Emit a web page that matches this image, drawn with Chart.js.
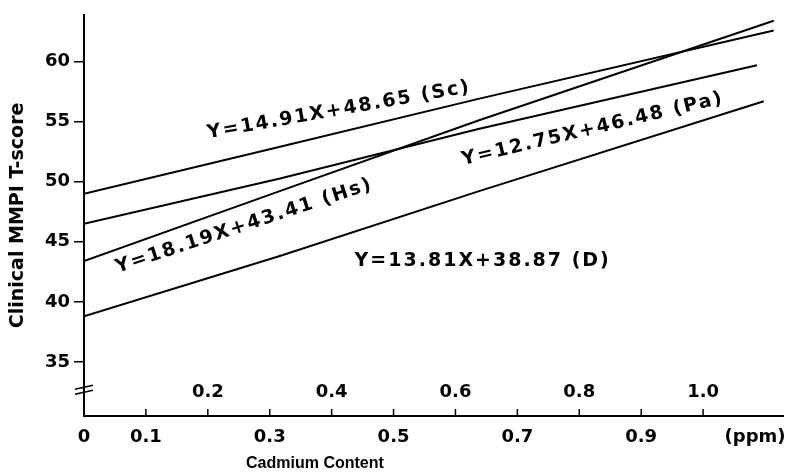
<!DOCTYPE html>
<html>
<head>
<meta charset="utf-8">
<script src="https://cdn.jsdelivr.net/npm/chart.js@4"></script>
<style>
  html, body { margin: 0; padding: 0; background: #fff; }
  #wrap { width: 797px; height: 473px; }
</style>
</head>
<body>
<div id="wrap"><canvas id="graph" width="797" height="473"></canvas></div>
<script>
// cadmium content (ppm) vs clinical MMPI T-score, one regression line per scale
var scX = [0, 0.315, 0.637, 1.114];
var scY = [49.0, 52.9, 56.9, 62.6];
var hsX = [0, 0.315, 0.637, 1.114];
var hsY = [43.4, 49.2, 55.1, 63.4];
var paX = [0, 0.315, 0.637, 1.087];
var paY = [46.5, 50.25, 54.4, 59.7];
var dX = [0, 0.315, 0.637, 1.098];
var dY = [38.8, 43.8, 49.2, 56.7];

var yTicks = [35, 40, 45, 50, 55, 60];
var xMarks = [0.1, 0.2, 0.3, 0.4, 0.5, 0.6, 0.7, 0.8, 0.9, 1.0];
var xLowVals = [0, 0.1, 0.3, 0.5, 0.7, 0.9, 1.084];
var xLowLabels = ['0', '0.1', '0.3', '0.5', '0.7', '0.9', '(ppm)'];
var xHighVals = [0.2, 0.4, 0.6, 0.8, 1.0];
var xHighLabels = ['0.2', '0.4', '0.6', '0.8', '1.0'];

var eqLabels = [
  'Y=14.91X+48.65 (Sc)',
  'Y=18.19X+43.41 (Hs)',
  'Y=12.75X+46.48 (Pa)',
  'Y=13.81X+38.87 (D)'
];

// where the equation texts sit (data units) and their slant in degrees
var notes = [
  { x: 0.412, y: 55.95, rot: 10 },
  { x: 0.259, y: 46.32, rot: 18.2 },
  { x: 0.822, y: 54.38, rot: 13.4 },
  { x: 0.644, y: 43.39, rot: 0 }
];

var numFont = { family: 'DejaVu Sans', size: 18, weight: 'bold' };

function pts(xs, ys) {
  return xs.map(function (x, k) { return { x: x, y: ys[k] }; });
}

function lineSet(xs, ys) {
  return {
    data: pts(xs, ys),
    borderColor: '#000',
    borderWidth: 2,
    pointRadius: 0,
    tension: 0,
    fill: false
  };
}

const extras = {
  id: 'extras',
  afterDraw(chart) {
    const ctx = chart.ctx;
    const xs = chart.scales.x, ys = chart.scales.y;
    const base = ys.bottom, ax = xs.left;
    ctx.save();
    ctx.strokeStyle = '#000';
    ctx.lineWidth = 1.5;

    // tick marks on the x axis point up into the plot
    xMarks.forEach(function (v) {
      const px = xs.getPixelForValue(v);
      ctx.beginPath();
      ctx.moveTo(px, base);
      ctx.lineTo(px, base - 7);
      ctx.stroke();
    });

    // axis break on the y axis
    const by = ys.getPixelForValue(32.9);
    [0, 5].forEach(function (o) {
      ctx.beginPath();
      ctx.moveTo(ax - 9, by + 2 + o);
      ctx.lineTo(ax + 9, by - 2 + o);
      ctx.stroke();
    });

    ctx.fillStyle = '#000';
    ctx.font = 'bold 18px "DejaVu Sans"';
    ctx.textAlign = 'center';
    ctx.textBaseline = 'middle';
    xHighVals.forEach(function (v, i) {
      ctx.fillText(xHighLabels[i], xs.getPixelForValue(v), base - 24);
    });

    ctx.font = 'bold 19px "DejaVu Sans"';
    ctx.letterSpacing = '2px';
    notes.forEach(function (n, i) {
      ctx.save();
      ctx.translate(xs.getPixelForValue(n.x), ys.getPixelForValue(n.y));
      ctx.rotate(-n.rot * Math.PI / 180);
      ctx.fillText(eqLabels[i], 0, 0);
      ctx.restore();
    });
    ctx.letterSpacing = '0px';

    ctx.font = 'bold 16px "Liberation Sans"';
    ctx.fillText('Cadmium Content', xs.getPixelForValue(0.373), chart.height - 9);
    ctx.restore();
  }
};

var graph = document.getElementById('graph').getContext('2d');
var myChart = new Chart(graph, {
  type: 'line',
  data: {
    datasets: [
      lineSet(scX, scY),
      lineSet(hsX, hsY),
      lineSet(paX, paY),
      lineSet(dX, dY)
    ]
  },
  options: {
    responsive: false,
    animation: false,
    devicePixelRatio: 1,
    layout: { padding: { left: 0, top: 12, right: 10, bottom: 0 } },
    plugins: {
      legend: { display: false },
      tooltip: { enabled: false }
    },
    scales: {
      x: {
        type: 'linear',
        min: 0,
        max: 1.13,
        afterFit: function (s) { s.height = 57; },
        afterBuildTicks: function (s) {
          s.ticks = xLowVals.map(function (v) { return { value: v }; });
        },
        grid: { display: true, drawOnChartArea: false, drawTicks: false },
        border: { display: true, color: '#000', width: 2 },
        ticks: {
          autoSkip: false,
          maxRotation: 0,
          padding: 11,
          color: '#000',
          font: numFont,
          callback: function (v, i) { return xLowLabels[i]; }
        }
      },
      y: {
        min: 30.5,
        max: 63.9,
        afterFit: function (s) { s.width = 84; },
        afterBuildTicks: function (s) {
          s.ticks = yTicks.map(function (v) { return { value: v }; });
        },
        grid: { drawOnChartArea: false, drawTicks: true, tickLength: 10, color: '#000', lineWidth: 1.5 },
        border: { display: true, color: '#000', width: 2 },
        ticks: {
          padding: 4,
          color: '#000',
          font: numFont,
          callback: function (v) { return String(v); }
        },
        title: {
          display: true,
          text: 'Clinical MMPI T-score',
          color: '#000',
          font: { family: 'DejaVu Sans', size: 19, weight: 'bold' },
          padding: { top: 7, bottom: 0 }
        }
      }
    }
  },
  plugins: [extras]
});
</script>
</body>
</html>
